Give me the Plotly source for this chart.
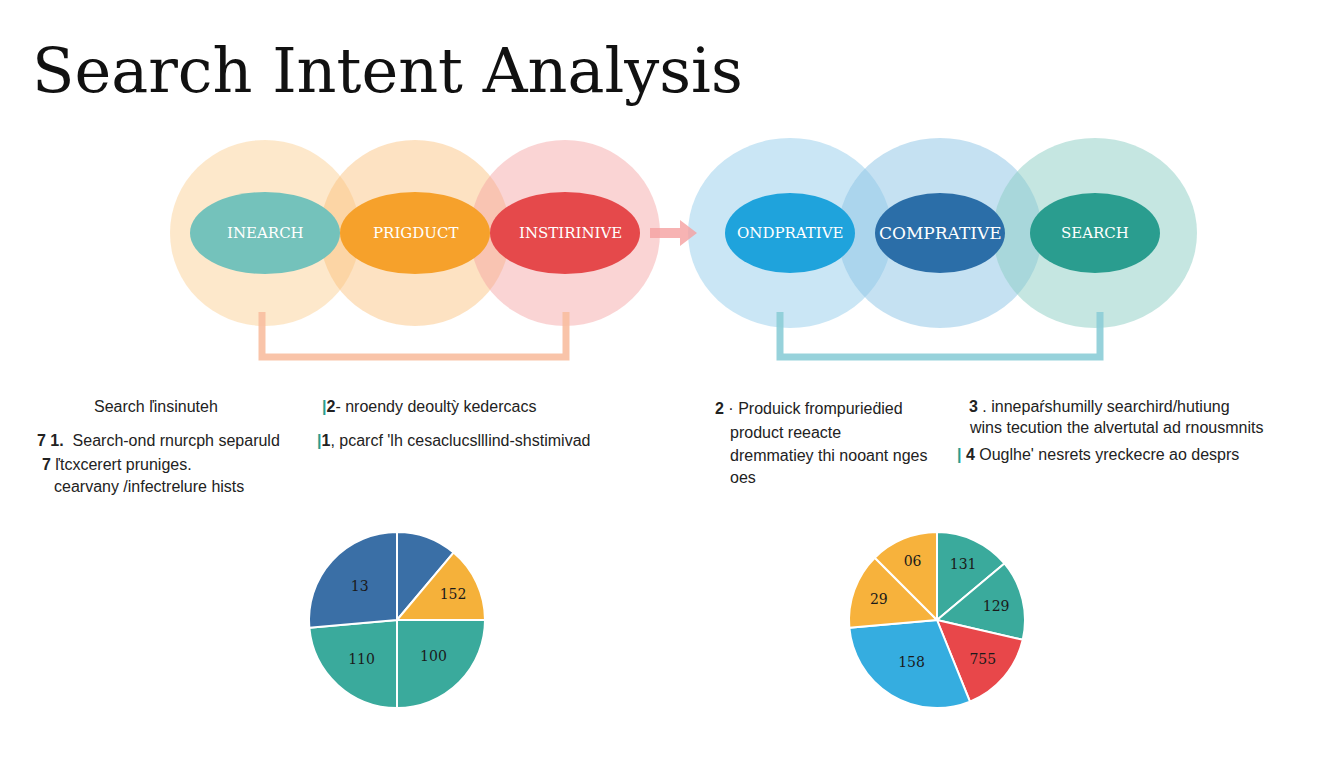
import plotly.graph_objects as go

title = "Search Intent Analysis"
left_labels = ["INEARCH", "PRIGDUCT", "INSTIRINIVE"]
right_labels = ["ONDPRATIVE", "COMPRATIVE", "SEARCH"]
left_cx = [265, 415, 565]
right_cx = [790, 940, 1095]
outer_left = ["rgba(250,205,140,0.45)", "rgba(250,190,120,0.45)", "rgba(245,160,160,0.45)"]
outer_right = ["rgba(150,205,235,0.5)", "rgba(140,195,230,0.5)", "rgba(140,205,195,0.5)"]
inner_left = ["#74c2bb", "#f6a12b", "#e5494b"]
inner_right = ["#1fa3dc", "#2b6ea8", "#2a9d8f"]

pie1_values = [40, 50, 90, 85, 95]
pie1_text = ["", "152", "100", "110", "13"]
pie1_colors = ["#3a6fa6", "#f5b13a", "#3aaa9c", "#3aaa9c", "#3a6fa6"]
pie2_values = [50, 53, 55, 107, 50, 45]
pie2_text = ["131", "129", "755", "158", "29", "06"]
pie2_colors = ["#3aaa9c", "#3aaa9c", "#e8474a", "#35ade0", "#f7b23c", "#f7b23c"]

texts = [
    (92, 406, "Search ľinsinuteh"),
    (35, 440, "<b>7 1.</b>  Search-ond rnurcph separuld"),
    (40, 464, "<b>7</b> ľtcxcerert pruniges."),
    (52, 486, "cearvany /infectrelure hists"),
    (320, 406, "<b><span style='color:#2a9d8f'>|</span>2</b>- nroendy deoultỳ kedercacs"),
    (315, 440, "<b><span style='color:#2a9d8f'>|</span>1</b>, pcarcf 'lh cesaclucslllind-shstimivad"),
    (713, 408, "<b>2</b> · Produick frompurieḋied"),
    (728, 432, "product reeacte"),
    (728, 455, "dremmatiey thi nooant nges"),
    (728, 477, "oes"),
    (967, 406, "<b>3</b> . innepaŕshumilly searchird/hutiung"),
    (967, 427, "wins tecution the alvertutal ad rnousmnits"),
    (955, 454, "<b><span style='color:#2a9d8f'>|</span> 4</b> Ouglhe' nesrets yreckecre ao desprs"),
]

fig = go.Figure()
fig.add_trace(go.Scatter(x=[10, 1340], y=[10, 760], mode="markers", marker=dict(opacity=0),
                         showlegend=False, hoverinfo="skip"))
shapes = []
for cx, c in zip(left_cx, outer_left):
    shapes.append(dict(type="circle", x0=cx-95, x1=cx+95, y0=233-93, y1=233+93, fillcolor=c, line_width=0, layer="below"))
for cx, c in zip(right_cx, outer_right):
    shapes.append(dict(type="circle", x0=cx-102, x1=cx+102, y0=233-95, y1=233+95, fillcolor=c, line_width=0, layer="below"))
for cx, c in zip(left_cx, inner_left):
    shapes.append(dict(type="circle", x0=cx-75, x1=cx+75, y0=233-41, y1=233+41, fillcolor=c, line_width=0))
for cx, c in zip(right_cx, inner_right):
    shapes.append(dict(type="circle", x0=cx-65, x1=cx+65, y0=233-40, y1=233+40, fillcolor=c, line_width=0))
shapes.append(dict(type="path", path="M 262 312 L 262 357 L 566 357 L 566 312", line=dict(color="rgba(248,190,160,0.9)", width=7)))
shapes.append(dict(type="path", path="M 780 312 L 780 357 L 1100 357 L 1100 312", line=dict(color="rgba(140,205,215,0.9)", width=7)))
shapes.append(dict(type="path", path="M 650 228 L 680 228 L 680 220 L 697 233 L 680 246 L 680 238 L 650 238 Z", fillcolor="rgba(245,160,160,0.8)", line_width=0))
fig.update_layout(shapes=shapes)

ann = [dict(x=30, y=70, text=title, showarrow=False, xanchor="left", yanchor="middle",
            font=dict(family="DejaVu Serif", size=62, color="#111"))]
for cx, lab in zip(left_cx, left_labels):
    ann.append(dict(x=cx + (5 if cx == 565 else 0), y=233, text=lab, showarrow=False, font=dict(family="DejaVu Serif", size=15, color="white")))
for cx, lab in zip(right_cx, right_labels):
    ann.append(dict(x=cx, y=233, text=lab, showarrow=False, font=dict(family="DejaVu Serif", size=17 if lab == "COMPRATIVE" else 15, color="white")))
for x, y, t in texts:
    ann.append(dict(x=x, y=y, text=t, showarrow=False, xanchor="left", yanchor="middle",
                    font=dict(family="Liberation Sans", size=16, color="#222")))
fig.update_layout(annotations=ann)

fig.add_trace(go.Pie(values=pie1_values, text=pie1_text, textinfo="text", sort=False, direction="clockwise",
                     rotation=0, marker=dict(colors=pie1_colors, line=dict(color="white", width=2)),
                     textfont=dict(family="DejaVu Serif", size=14, color="#1a1a1a"), insidetextorientation="horizontal",
                     domain=dict(x=[301/1344, 477/1344], y=[68/768, 244/768]), showlegend=False, hoverinfo="skip"))
fig.add_trace(go.Pie(values=pie2_values, text=pie2_text, textinfo="text", sort=False, direction="clockwise",
                     rotation=0, marker=dict(colors=pie2_colors, line=dict(color="white", width=2)),
                     textfont=dict(family="DejaVu Serif", size=14, color="#1a1a1a"), insidetextorientation="horizontal",
                     domain=dict(x=[841/1344, 1017/1344], y=[68/768, 244/768]), showlegend=False, hoverinfo="skip"))

fig.update_layout(width=1344, height=768, margin=dict(l=0, r=0, t=0, b=0),
                  paper_bgcolor="white", plot_bgcolor="white",
                  xaxis=dict(range=[8, 1352], visible=False, fixedrange=True),
                  yaxis=dict(range=[776, 8], visible=False, fixedrange=True))
fig.write_html("out.html")
